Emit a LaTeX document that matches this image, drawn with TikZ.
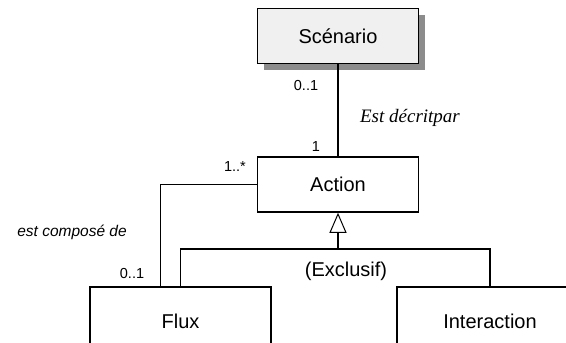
\documentclass[tikz,border=0pt]{standalone}
\usepackage{fontspec}
\setmainfont{Liberation Sans}
\newfontfamily\timesfont{Liberation Serif}
\usetikzlibrary{positioning,shadows,arrows.meta}

\begin{document}
\begin{tikzpicture}[x=1pt,y=-1pt,
    classbox/.style={rectangle, draw, line width=1.5pt, fill=white, minimum width=161pt, minimum height=55pt, inner sep=0pt, font=\fontsize{20}{24}\selectfont},
    mainclass/.style={classbox, fill=gray!12, drop shadow={shadow xshift=6pt, shadow yshift=-6pt, fill=black!45, opacity=1}},
    link/.style={line width=1.2pt},
    mult/.style={font=\fontsize{14.5}{17}\selectfont},
    gentip/.style={-{Triangle[open, length=20pt, width=17pt, line width=1pt]}}]

\useasboundingbox (0,0) rectangle (566,343);
\clip (0,0) rectangle (566,343);

\node [mainclass] (scenario) at (338,36) {Scénario};
\node [classbox] (action) at (338,184.5) {Action};
\node [classbox, minimum width=181pt, minimum height=68pt] (flux) at (180.5,321) {Flux};
\node [classbox, minimum width=186pt, minimum height=68pt] (interaction) at (490,321) {Interaction};

% association Scenario - Action
\draw [link] (scenario) -- (action);
\node [mult] (m01a) at (306,86) {0..1};
\node [font=\timesfont\itshape\fontsize{19}{22}\selectfont] (decrit) at (410,118) {Est décritpar};
\node [mult] (m1) at (316,147) {1};

% composition Action - Flux
\draw [link] (action.west) -| ([xshift=-20pt]flux.north);
\node [mult] (m1n) at (235,167) {1..*};
\node [font=\itshape\fontsize{15.5}{18}\selectfont] (compose) at (72,232) {est composé de};
\node [mult] (m01b) at (132,274) {0..1};

% generalisation
\coordinate (gen) at (338,249);
\draw [link] (flux.north) |- (gen) -| (interaction.north);
\draw [link, gentip] (gen) -- (action.south);
\node [font=\fontsize{20}{24}\selectfont] (excl) at (346,271) {(Exclusif)};

\end{tikzpicture}
\end{document}
